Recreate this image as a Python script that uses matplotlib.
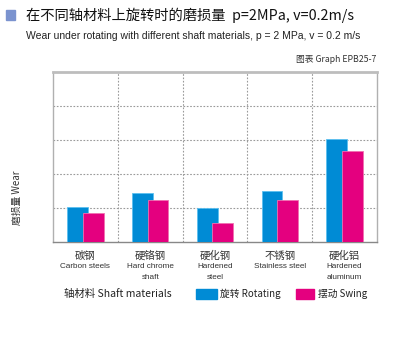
import matplotlib.pyplot as plt
import matplotlib.patches as mpatches
import numpy as np

plt.rcParams['font.family'] = ['Noto Sans CJK SC', 'DejaVu Sans']

cats_cn = ['碳钢', '硬铬钢', '硬化钢', '不锈钢', '硬化铝']
cats_en = ['Carbon steels', 'Hard chrome\nshaft', 'Hardened\nsteel', 'Stainless steel', 'Hardened\naluminum']
rotating = [1.03, 1.44, 1.0, 1.5, 3.03]
swing = [0.85, 1.24, 0.56, 1.24, 2.68]

blue = '#008bd5'
pink = '#e4007f'
grey = '#9a9a9a'
latin = ['Liberation Sans', 'DejaVu Sans']

fig = plt.figure(figsize=(4, 3.6), dpi=100)
ax = fig.add_axes([53 / 400, 1 - 242 / 360, 324 / 400, 170 / 360])

x = np.arange(len(cats_cn))
w = 0.32
off = 0.12
ax.bar(x - off, rotating, w, color=blue, edgecolor='#5cc0f0', linewidth=0.6, zorder=3)
ax.bar(x + off, swing, w, color=pink, edgecolor='#f070b0', linewidth=0.6, zorder=4)

ax.set_xlim(-0.5, 4.5)
ax.set_ylim(0, 5)
ax.set_yticks(np.arange(1, 5))
ax.set_xticks(np.arange(0.5, 4.5, 1))
ax.tick_params(left=False, bottom=False, labelleft=False, labelbottom=False)
ax.grid(True, color=grey, linestyle=(0, (1.5, 1.5)), linewidth=0.8, zorder=1)
for s in ax.spines.values():
    s.set_color('#b0b0b0')
    s.set_linewidth(1.0)
ax.spines['top'].set_linewidth(2.0)
ax.spines['top'].set_color('#bdbdbd')
ax.spines['bottom'].set_color('#888888')

for i in x:
    ax.text(i, -0.25, cats_cn[i], ha='center', va='top', fontsize=7.5, color='#333333')
    ax.text(i, -0.62, cats_en[i], ha='center', va='top', fontsize=5.9,
            color='#333333', linespacing=1.7, family=latin)

# title block
fig.patches.append(mpatches.Rectangle((6 / 400, 1 - 20 / 360), 9 / 400, 10 / 360,
                                      transform=fig.transFigure, color='#7b93cf'))
fig.text(26 / 400, 1 - 15 / 360, '在不同轴材料上旋转时的磨损量  p=2MPa, v=0.2m/s',
         fontsize=10.3, va='center', ha='left', color='#111111')
fig.text(26 / 400, 1 - 36 / 360,
         'Wear under rotating with different shaft materials, p = 2 MPa, v = 0.2 m/s',
         fontsize=7.5, va='center', ha='left', color='#222222', family=latin)
fig.text(376 / 400, 1 - 60 / 360, '图表 Graph EPB25-7', fontsize=6.3, va='center',
         ha='right', color='#333333')
fig.text(17 / 400, 1 - 198 / 360, '磨损量 Wear', rotation=90, fontsize=7,
         va='center', ha='center', color='#333333')

# legend row
fig.text(64 / 400, 1 - 294 / 360, '轴材料 Shaft materials', fontsize=7.5,
         va='center', ha='left', color='#222222')
fig.patches.append(mpatches.Rectangle((196 / 400, 1 - 299 / 360), 21 / 400, 10 / 360,
                                      transform=fig.transFigure, color=blue))
fig.text(220 / 400, 1 - 294 / 360, '旋转 Rotating', fontsize=7, va='center',
         ha='left', color='#222222')
fig.patches.append(mpatches.Rectangle((296 / 400, 1 - 299 / 360), 18 / 400, 10 / 360,
                                      transform=fig.transFigure, color=pink))
fig.text(318 / 400, 1 - 294 / 360, '摆动 Swing', fontsize=7, va='center',
         ha='left', color='#222222')

fig.savefig('out.png', dpi=100)
